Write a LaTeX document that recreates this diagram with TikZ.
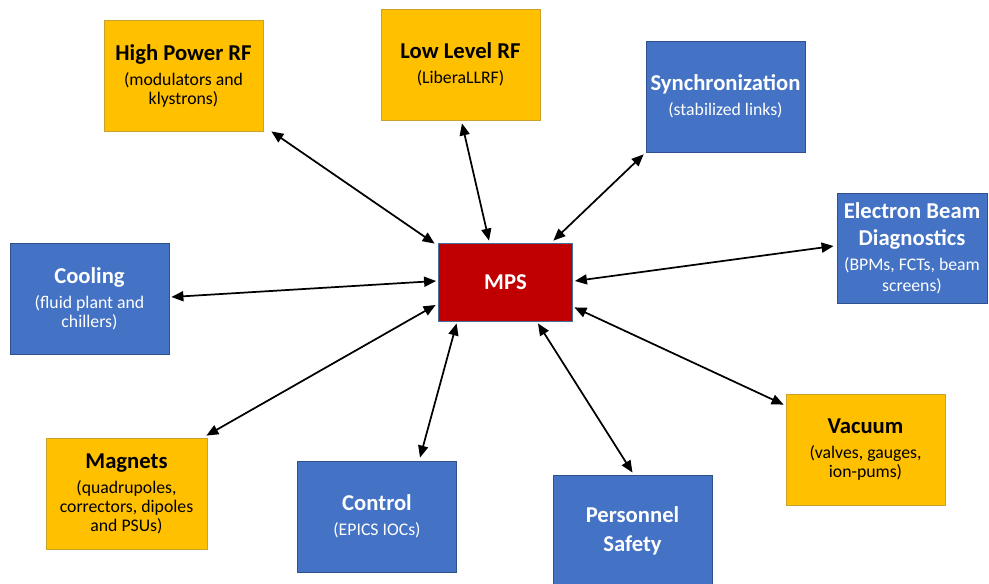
\documentclass[tikz,border=0pt]{standalone}
\usepackage{fontspec}
\setmainfont{Carlito}
\usetikzlibrary{arrows.meta,calc}

\definecolor{boxorange}{HTML}{FFC000}
\definecolor{orangeline}{HTML}{C9A227}
\definecolor{boxblue}{HTML}{4472C4}
\definecolor{blueline}{HTML}{2F528F}
\definecolor{boxred}{HTML}{C00000}
\definecolor{redline}{HTML}{41719C}

\newcommand{\ttl}{\bfseries\fontsize{17}{14.25}\selectfont}

\tikzset{
  unit/.style={rectangle, line width=0.6pt, inner sep=0pt, align=center,
    font=\fontsize{13.3}{14.25}\selectfont,
    minimum width=119.25pt, minimum height=83.25pt},
  orangebox/.style={unit, fill=boxorange, draw=orangeline, text=black},
  bluebox/.style={unit, fill=boxblue, draw=blueline, text=white},
  redbox/.style={unit, fill=boxred, draw=redline, text=white,
    minimum width=100.5pt, minimum height=58.5pt},
  link/.style={line width=1.3pt, {Triangle[length=9pt,width=7.5pt]}-{Triangle[length=9pt,width=7.5pt]}}
}

\begin{document}
\begin{tikzpicture}[x=0.75pt,y=-0.75pt]
\path[use as bounding box] (0,0) rectangle (989,583);

% central machine protection system
\node[redbox] (mps) at (505.5,282) {{\ttl MPS}};

% subsystems
\node[orangebox] (hprf) at (183.5,75.5) {{\ttl High Power RF}\\[4.5pt](modulators and\\klystrons)};
\node[orangebox] (llrf) at (460.5,64.5) {{\ttl Low Level RF}\\[4.5pt](LiberaLLRF)};
\node[bluebox] (sync) at (725.5,96.5) {{\ttl Synchronization}\\[4.5pt](stabilized links)};
\node[bluebox, minimum width=112.5pt, minimum height=82.5pt] (ebd) at (912,248)
  {{\ttl Electron Beam}\\[6pt]{\ttl Diagnostics}\\[4.5pt](BPMs, FCTs, beam\\[1.5pt]screens)};
\node[bluebox] (cool) at (89.5,298.5) {{\ttl Cooling}\\[4.5pt](fluid plant and\\chillers)};
\node[orangebox, minimum width=120.75pt] (mag) at (126.5,493.5)
  {{\ttl Magnets}\\[4.5pt](quadrupoles,\\correctors, dipoles\\and PSUs)};
\node[bluebox] (ctrl) at (377,516.5) {{\ttl Control}\\[4.5pt](EPICS IOCs)};
\node[bluebox] (pers) at (632.5,530.5) {{\ttl Personnel}\\[7.5pt]{\ttl Safety}};
\node[orangebox, minimum height=83.25pt] (vac) at (865.5,450)
  {{\ttl Vacuum}\\[4.5pt](valves, gauges,\\ion-pums)};

% bidirectional links to the MPS
\draw[link] ($(hprf.south east)+(8,0)$) -- ($(mps.north west)+(-3.5,1)$);
\draw[link] ($(llrf.south)+(1.5,3)$) -- ($(mps.north)+(-16.5,-2)$);
\draw[link] ($(sync.south west)+(-2,2)$) -- ($(mps.north east)+(-19.5,-2)$);
\draw[link] ($(ebd.west)+(-3,-2)$) -- ($(mps.east)+(2,-1)$);
\draw[link] ($(cool.east)+(2,-1.5)$) -- ($(mps.west)+(-2,-1)$);
\draw[link] ($(mag.north east)+(-1,-2)$) -- ($(mps.west)+(-2.5,23)$);
\draw[link] ($(ctrl.north)+(43,-3)$) -- ($(mps.south west)+(18.5,2)$);
\draw[link] ($(pers.north)+(0,-2)$) -- ($(mps.south)+(32.5,2)$);
\draw[link] ($(vac.north west)+(-2,10.5)$) -- ($(mps.south east)+(1.5,-14)$);
\end{tikzpicture}
\end{document}
